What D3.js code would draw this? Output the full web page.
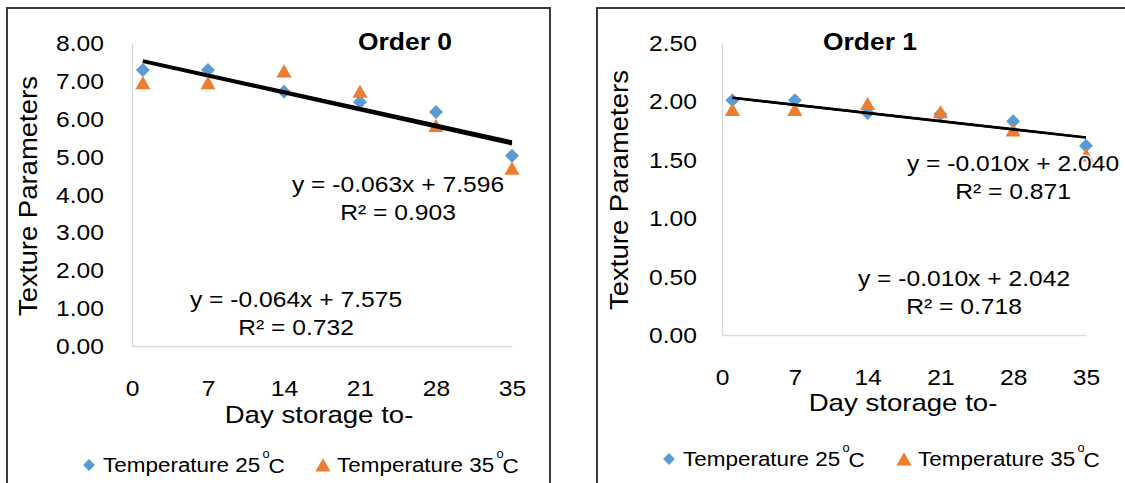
<!DOCTYPE html>
<html>
<head>
<meta charset="utf-8">
<script src="https://cdn.jsdelivr.net/npm/d3@7"></script>
<style>
  body { margin: 0; background: #fff; }
  svg { display: block; font-family: "Liberation Sans", Arial, sans-serif; }
</style>
</head>
<body>
<div id="chart"></div>
<script>
// DATA ---------------------------------------------------------------------
const days = [1, 7, 14, 21, 28, 35];
const xTicks = [0, 7, 14, 21, 28, 35];
const seriesNames = ["Temperature 25", "Temperature 35"];

const order0Temp25 = [7.29, 7.29, 6.71, 6.44, 6.18, 5.02];
const order0Temp35 = [6.95, 6.95, 7.26, 6.72, 5.82, 4.69];
const order0Yticks = [0, 1, 2, 3, 4, 5, 6, 7, 8];
// trendline [slope, intercept, r2] for 25 and 35 C
const order0Trend25 = [-0.063, 7.596, 0.903];
const order0Trend35 = [-0.064, 7.575, 0.732];

const order1Temp25 = [2.01, 2.01, 1.90, 1.89, 1.83, 1.62];
const order1Temp35 = [1.93, 1.93, 1.98, 1.91, 1.755, 1.54];
const order1Yticks = [0, 0.5, 1, 1.5, 2, 2.5];
const order1Trend25 = [-0.010, 2.040, 0.871];
const order1Trend35 = [-0.010, 2.042, 0.718];

const colors = ["#5b9bd5", "#ed7d31"];

// SVG ---------------------------------------------------------------------
const width = 1125, height = 483;
const svg = d3.select("#chart").append("svg")
    .attr("width", width)
    .attr("height", height);

// text helper, stretched horizontally like the source picture
function addText(g, x, y, str, size, opts = {}) {
    const sx = opts.sx || 1.12;
    const rot = opts.rotate ? ` rotate(${opts.rotate})` : "";
    return g.append("text")
        .attr("transform", `translate(${x},${y})${rot} scale(${sx},1)`)
        .attr("text-anchor", opts.anchor || "middle")
        .attr("dominant-baseline", "central")
        .attr("font-size", size)
        .attr("font-weight", opts.bold ? "bold" : "normal")
        .attr("fill", "#000")
        .text(str);
}

function drawPanel(p) {
    const g = svg.append("g");

    // frame
    g.append("rect")
        .attr("x", p.frame[0]).attr("y", p.frame[1])
        .attr("width", p.frame[2]).attr("height", p.frame[3])
        .attr("fill", "none")
        .attr("stroke", "#3a3a3a")
        .attr("stroke-width", 2);

    const x = d3.scaleLinear().domain([0, 35]).range(p.xRange);
    const y = d3.scaleLinear().domain([0, d3.max(p.yTicks)]).range(p.yRange);

    // axes
    const yAxis = g.append("g")
        .attr("transform", `translate(${p.xRange[0]},0)`)
        .call(d3.axisLeft(y).tickValues(p.yTicks).tickFormat(d3.format(".2f")).tickSize(0).tickSizeOuter(0));
    yAxis.selectAll("text")
        .attr("x", 0).attr("dy", null)
        .attr("dominant-baseline", "central")
        .attr("transform", `translate(${p.yLabelX - p.xRange[0]},0) scale(1.12,1)`)
        .attr("font-size", 22).attr("font-family", null).attr("fill", "#000");

    const xAxis = g.append("g")
        .attr("transform", `translate(0,${p.yRange[0]})`)
        .call(d3.axisBottom(x).tickValues(xTicks).tickSize(0).tickSizeOuter(0));
    xAxis.selectAll("text")
        .attr("y", 0).attr("dy", null)
        .attr("dominant-baseline", "central")
        .attr("transform", `translate(0,${p.xLabelY - p.yRange[0]}) scale(1.12,1)`)
        .attr("font-size", 22).attr("font-family", null).attr("fill", "#000");

    g.selectAll(".domain").attr("stroke", "#d9d9d9").attr("stroke-width", 1.3);

    // markers
    const diamond = d3.symbol().type(d3.symbolDiamond2).size(125);
    const triangle = d3.symbol().type(d3.symbolTriangle).size(100);

    g.append("g").selectAll("path")
        .data(days.map((d, i) => [d, p.s25[i]]))
        .join("path")
        .attr("d", diamond)
        .attr("transform", d => `translate(${x(d[0])},${y(d[1])})`)
        .attr("fill", colors[0]);

    g.append("g").selectAll("path")
        .data(days.map((d, i) => [d, p.s35[i]]))
        .join("path")
        .attr("d", triangle)
        .attr("transform", d => `translate(${x(d[0])},${y(d[1]) + 2})`)
        .attr("fill", colors[1]);

    // trendlines
    const line = d3.line().x(d => x(d[0])).y(d => y(d[1]));
    [p.t35, p.t25].forEach(t => {
        const ends = [days[0], days[days.length - 1]].map(d => [d, t[0] * d + t[1]]);
        g.append("path")
            .attr("d", line(ends))
            .attr("fill", "none")
            .attr("stroke", "#000")
            .attr("stroke-width", p.lineW);
    });

    // equations
    const fmt = v => v.toFixed(3);
    const eq = (t) => `y = ${fmt(t[0])}x + ${fmt(t[1])}`;
    const r2 = (t) => `R\u00b2 = ${fmt(t[2])}`;
    [[p.t25, p.eq25], [p.t35, p.eq35]].forEach(([t, pos]) => {
        addText(g, pos[0], pos[1], eq(t), 22)
            .attr("stroke", "#fff").attr("stroke-width", 3).attr("paint-order", "stroke");
        addText(g, pos[0], pos[1] + 28, r2(t), 22)
            .attr("stroke", "#fff").attr("stroke-width", 3).attr("paint-order", "stroke");
    });

    // titles
    addText(g, p.title[0], p.title[1], p.name, 23, { bold: true, sx: 1.15 });
    addText(g, p.xTitle[0], p.xTitle[1], "Day storage to-", 24, { sx: 1.15 });
    addText(g, p.yTitle[0], p.yTitle[1], "Texture Parameters", 25, { rotate: -90, sx: 1.1 });

    // legend
    const lg = g.append("g");
    [0, 1].forEach(i => {
        const lx = p.legend[i];
        const ly = p.legend[2];
        lg.append("path")
            .attr("d", i === 0 ? d3.symbol().type(d3.symbolDiamond2).size(90)() : d3.symbol().type(d3.symbolTriangle).size(100)())
            .attr("transform", `translate(${lx},${ly + (i === 0 ? 0 : 2)})`)
            .attr("fill", colors[i]);
        const t = addText(lg, lx + 14, ly, seriesNames[i], 21, { anchor: "start", sx: 1.07 });
        t.append("tspan").attr("font-size", 12).attr("dx", 2).attr("dy", -11).text("o");
        t.append("tspan").attr("font-size", 21).attr("dx", -1).attr("dy", 11).text("C");
    });
}

drawPanel({
    name: "Order 0",
    frame: [7, 8, 543, 500],
    xRange: [132, 512], yRange: [346, 43],
    yTicks: order0Yticks,
    yLabelX: 104, xLabelY: 388,
    s25: order0Temp25, s35: order0Temp35,
    t25: order0Trend25, t35: order0Trend35,
    lineW: 3,
    eq25: [398, 184], eq35: [296, 299],
    title: [405, 42], xTitle: [319, 415], yTitle: [28, 196],
    legend: [89, 323, 465]
});

drawPanel({
    name: "Order 1",
    frame: [597, 8, 540, 500],
    xRange: [722, 1086], yRange: [335, 43],
    yTicks: order1Yticks,
    yLabelX: 697, xLabelY: 377,
    s25: order1Temp25, s35: order1Temp35,
    t25: order1Trend25, t35: order1Trend35,
    lineW: 2.4,
    eq25: [1013, 163], eq35: [964, 278],
    title: [870, 42], xTitle: [903, 403], yTitle: [619, 190],
    legend: [669, 904, 459]
});
</script>
</body>
</html>
